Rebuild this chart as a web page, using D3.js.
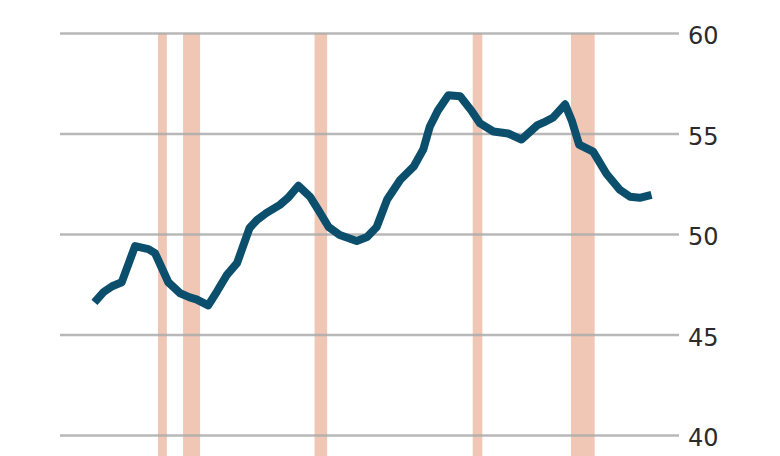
<!DOCTYPE html>
<html>
<head>
<meta charset="utf-8">
<script src="https://cdn.jsdelivr.net/npm/d3@7"></script>
<style>
  body { margin: 0; background: #fff; }
  svg { display: block; }
</style>
</head>
<body>
<script>
// values (decimal years)
var years = [1975.6, 1976.2, 1976.8, 1977.45, 1978.35, 1979.25, 1979.7, 1980.6, 1981.4, 1982.05,
  1982.5, 1983.3, 1983.9, 1984.55, 1985.25, 1986.1, 1986.6, 1987.25, 1988.15, 1988.7,
  1989.4, 1990.2, 1990.75, 1991.45, 1992.2, 1993.35, 1994.05, 1994.7, 1995.4, 1996.3,
  1997.2, 1997.85, 1998.3, 1998.85, 1999.55, 2000.35, 2001.15, 2001.7, 2002.6, 2003.6,
  2004.5, 2005.55, 2006.0, 2006.65, 2007.45, 2007.9, 2008.4, 2009.35, 2010.25, 2011.15,
  2011.85, 2012.5, 2013.3];
var values = [46.6, 47.1, 47.4, 47.6, 49.4, 49.25, 49.05, 47.6, 47.05, 46.85,
  46.75, 46.45, 47.15, 47.95, 48.55, 50.3, 50.7, 51.05, 51.45, 51.8,
  52.4, 51.85, 51.2, 50.35, 49.95, 49.65, 49.85, 50.35, 51.7, 52.7,
  53.35, 54.2, 55.35, 56.15, 56.9, 56.85, 56.1, 55.5, 55.1, 55.0,
  54.7, 55.4, 55.55, 55.8, 56.45, 55.65, 54.45, 54.1, 53.0, 52.2,
  51.85, 51.8, 51.95];
var recessions = [[1979.9, 1980.5], [1981.6, 1982.75], [1990.5, 1991.35], [2001.2, 2001.85], [2007.85, 2009.45]];
var yTicks = [40, 45, 50, 55, 60];

var WIDTH = 780;
var HEIGHT = 456;
var LEFT = 60;
var RIGHT = 679;

var data = years.map(function (d, i) { return {t: d, v: values[i]}; });

var x = d3.scaleLinear()
  .domain([1973.27, 2015.16])
  .range([LEFT, RIGHT]);

var y = d3.scaleLinear()
  .domain([40, 60])
  .range([435, 33]);

var svg = d3.select('body').append('svg')
  .attr('width', WIDTH)
  .attr('height', HEIGHT);

// recession bands
svg.append('g')
  .selectAll('rect')
  .data(recessions)
  .enter().append('rect')
    .attr('x', function (d) { return x(d[0]); })
    .attr('width', function (d) { return x(d[1]) - x(d[0]); })
    .attr('y', y(60))
    .attr('height', HEIGHT - y(60))
    .style('fill', '#f0c6b5');

// right axis with gridlines
var axis = svg.append('g')
  .attr('transform', 'translate(' + RIGHT + ',0)')
  .call(d3.axisRight(y)
    .tickValues(yTicks)
    .tickSize(-(RIGHT - LEFT))
    .tickPadding(9));

axis.select('.domain').remove();
axis.selectAll('.tick line')
  .style('stroke', '#ababab')
  .style('stroke-opacity', 0.85)
  .style('stroke-width', 2.5);
axis.selectAll('.tick text')
  .attr('x', 9)
  .attr('dy', '0.45em')
  .style('font-family', 'DejaVu Sans, sans-serif')
  .style('font-size', '24px')
  .style('fill', '#2b2b2b');

var line = d3.line()
  .x(function (d) { return x(d.t); })
  .y(function (d) { return y(d.v); });

svg.append('path')
  .datum(data)
  .attr('d', line)
  .style('fill', 'none')
  .style('stroke', '#0b4f6d')
  .style('stroke-width', 8)
  .style('stroke-linejoin', 'round')
  .style('stroke-linecap', 'butt');
</script>
</body>
</html>
